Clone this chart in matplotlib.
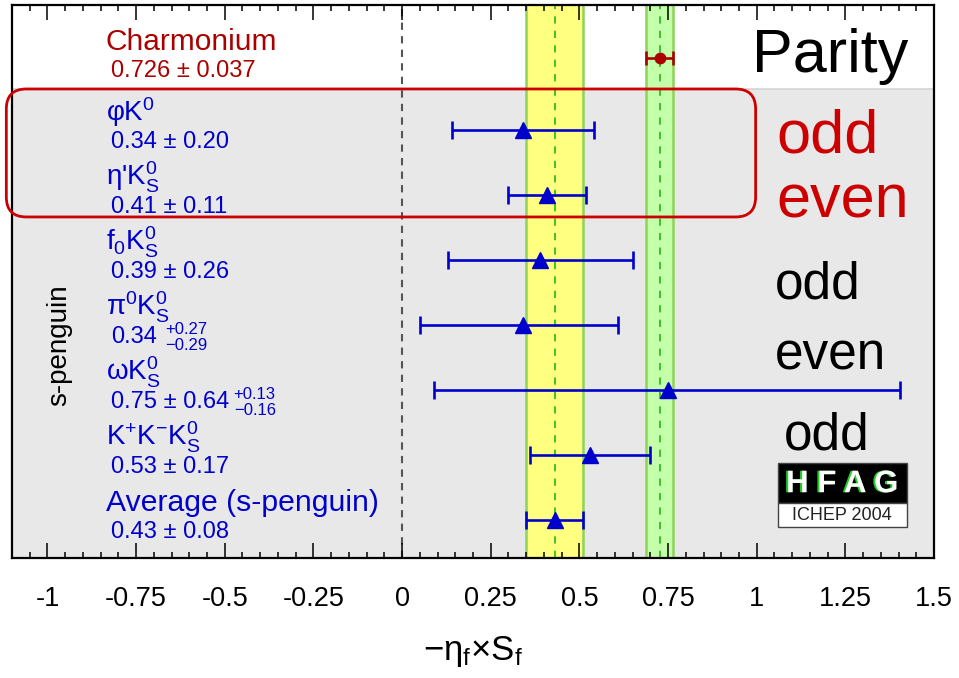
import numpy as np
import matplotlib
matplotlib.use("Agg")
import matplotlib.pyplot as plt
import matplotlib.patheffects as pe
from matplotlib.patches import FancyBboxPatch, Rectangle
from matplotlib.transforms import IdentityTransform

plt.rcParams['font.family'] = ['Liberation Sans', 'DejaVu Sans']
plt.rcParams['mathtext.fontset'] = 'custom'
plt.rcParams['mathtext.rm'] = 'Liberation Sans'
plt.rcParams['mathtext.default'] = 'regular'
plt.rcParams['axes.unicode_minus'] = False

# ---- data -------------------------------------------------------------
ref_name = "Charmonium"
ref_label = "0.726 ± 0.037"
ref_value = 0.726
ref_err = 0.037

modes = ["φK$^{0}$", "η'K$^{0}_{S}$", "f$_{0}$K$^{0}_{S}$", "π$^{0}$K$^{0}_{S}$",
         "ωK$^{0}_{S}$", "K$^{+}$K$^{-}$K$^{0}_{S}$", "Average (s-penguin)"]
value_text = ["0.34 ± 0.20", "0.41 ± 0.11", "0.39 ± 0.26", "0.34",
              "0.75 ± 0.64", "0.53 ± 0.17", "0.43 ± 0.08"]
value_sup = ["", "", "", "+0.27", "+0.13", "", ""]
value_sub = ["", "", "", "−0.29", "−0.16", "", ""]
values = [0.34, 0.41, 0.39, 0.34, 0.75, 0.53, 0.43]
err_plus = [0.20, 0.11, 0.26, 0.27, 0.64, 0.17, 0.08]
err_minus = [0.20, 0.11, 0.26, 0.29, 0.64, 0.17, 0.08]
syst_plus = [0, 0, 0, 0, 0.13, 0, 0]
syst_minus = [0, 0, 0, 0, 0.16, 0, 0]

avg_value = 0.43
avg_err = 0.08

parity_red = ["odd", "even"]
parity_black = ["odd", "even", "odd"]

tick_vals = [-1, -0.75, -0.5, -0.25, 0, 0.25, 0.5, 0.75, 1, 1.25, 1.5]
tick_labels = ["-1", "-0.75", "-0.5", "-0.25", "0", "0.25", "0.5", "0.75", "1", "1.25", "1.5"]

# ---- layout -----------------------------------------------------------
BLUE = '#0000cc'
DARKRED = '#aa0000'
RED = '#cc0000'

fig = plt.figure(figsize=(9.59, 6.78), dpi=100)
fig.patch.set_facecolor('white')
ax = fig.add_axes([12 / 959, 1 - 558 / 678, 922 / 959, 553 / 678])

ax.set_xlim(-1.1, 1.5)
ax.set_ylim(7.585, -0.923)

rows = np.arange(1, len(modes) + 1)
ref_row = -0.1
sep_row = 0.369

# shaded region for the s-penguin modes
ax.axhspan(sep_row, 7.585, color='#e8e8e8', zorder=0, lw=0)
ax.axhline(sep_row, color='#d4d4d4', lw=1.2, zorder=0.5)

# average bands
ax.axvspan(avg_value - avg_err, avg_value + avg_err, color='#ffff80', lw=0, zorder=1)
ax.axvspan(ref_value - ref_err, ref_value + ref_err, color='#c4ffaa', lw=0, zorder=1)
for xb in (avg_value - avg_err, avg_value + avg_err, ref_value - ref_err, ref_value + ref_err):
    ax.axvline(xb, color='#8fd35a', lw=1.8, zorder=1.2)
for xc in (avg_value, ref_value):
    ax.axvline(xc, color='#33bb22', lw=1.3, ls=(0, (4, 4)), zorder=1.3)
ax.axvline(0, color='#555555', lw=1.5, ls=(0, (3.5, 3)), zorder=1.3)

# measurements
tot_plus = np.hypot(err_plus, syst_plus)
tot_minus = np.hypot(err_minus, syst_minus)
ax.errorbar(values, rows, xerr=[tot_minus, tot_plus], fmt='^', color=BLUE,
            ms=11.5, elinewidth=1.9, capsize=6.5, capthick=1.9, zorder=3)
ax.errorbar([ref_value], [ref_row], xerr=[[ref_err], [ref_err]], fmt='o', color=DARKRED,
            ms=7.5, elinewidth=1.9, capsize=5, capthick=1.9, zorder=3)

# row labels
name_x, val_x = -0.836, -0.82
ax.text(name_x, ref_row - 0.13, ref_name, color=DARKRED, fontsize=21.5, va='baseline')
ax.text(val_x, ref_row + 0.29, ref_label, color=DARKRED, fontsize=17, va='baseline')
for r, nm, vt, sup, sub in zip(rows, modes, value_text, value_sup, value_sub):
    fs = 21.7 if nm.startswith("Average") else 20
    ax.text(name_x, r - 0.14, nm, color=BLUE, fontsize=fs, va='baseline')
    main = ax.text(val_x, r + 0.28, vt, color=BLUE, fontsize=17, va='baseline')
    if sup:
        gap = 6 if "±" not in vt else 3
        ax.annotate(sup, xy=(1, 0), xycoords=main, xytext=(gap, 10.5),
                    textcoords='offset points', color=BLUE, fontsize=12, va='baseline')
        ax.annotate(sub, xy=(1, 0), xycoords=main, xytext=(gap, -1.5),
                    textcoords='offset points', color=BLUE, fontsize=12, va='baseline')

ax.text(-0.967, 4.31, "s-penguin", rotation=90, ha='center', va='center',
        fontsize=20, color='black')

# CP parity of the final states
ax.text(0.986, 0.108, "Parity", fontsize=44, va='baseline', color='black')
for r, word in zip(rows[:2], parity_red):
    ax.text(1.056, r + 0.34, word, fontsize=44, va='baseline', color=RED)
for word, xb, yb in zip(parity_black, (1.051, 1.051, 1.078), (3.585, 4.69, 5.92)):
    ax.text(xb, yb, word, fontsize=37, va='baseline', color='black')

# HFAG logo
ax.add_patch(Rectangle((1.059, 6.12), 0.365, 0.62, fc='black', ec='#444444', lw=1, zorder=4))
ax.add_patch(Rectangle((1.059, 6.74), 0.365, 0.37, fc='white', ec='#444444', lw=1, zorder=4))
ax.text(1.2415, 6.45, "H F A G", ha='center', va='center', fontsize=22.5, fontweight='bold',
        color='white', zorder=6,
        path_effects=[pe.withSimplePatchShadow(offset=(-1.5, 0), shadow_rgbFace='#22cc22', alpha=1.0)])
ax.text(1.2415, 6.93, "ICHEP 2004", ha='center', va='center', fontsize=13, color='#222222', zorder=6)

# axes styling
ax.set_xticks(tick_vals, tick_labels)
ax.set_xticks(np.arange(-1.1, 1.5001, 0.05), minor=True)
ax.set_yticks([])
ax.tick_params(axis='x', which='both', direction='in', top=True, bottom=True, width=1.1)
ax.tick_params(axis='x', which='major', length=11, pad=20)
ax.tick_params(axis='x', which='minor', length=4.5)
for lab in ax.get_xticklabels():
    lab.set_fontsize(19.5)
for sp in ax.spines.values():
    sp.set_linewidth(1.6)
    sp.set_zorder(7)

ax.set_xlabel("−η$_{f}$×S$_{f}$", fontsize=25, labelpad=16)

# rounded highlight box around the first two modes (drawn in pixel space)
(bx0, by0) = ax.transData.transform((-1.116, 2.338))
(bx1, by1) = ax.transData.transform((0.997, sep_row))
box = FancyBboxPatch((bx0, by0), bx1 - bx0, by1 - by0,
                     boxstyle="round,pad=0,rounding_size=20",
                     fc='none', ec=RED, lw=2, zorder=8,
                     transform=IdentityTransform())
fig.add_artist(box)

fig.savefig("out.png", dpi=100, facecolor=fig.get_facecolor())
